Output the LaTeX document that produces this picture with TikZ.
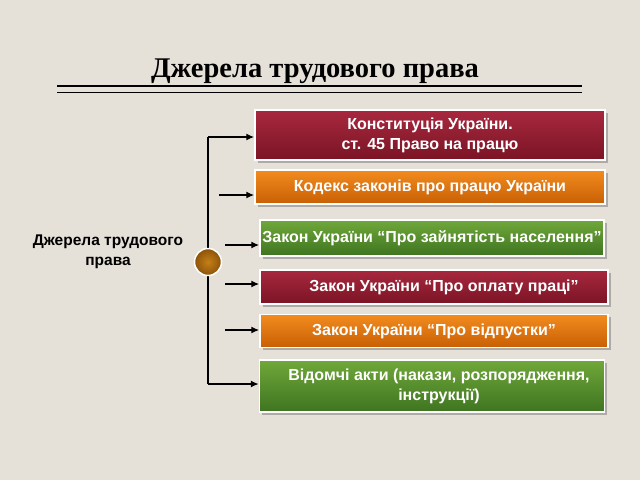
\documentclass[tikz,border=0pt]{standalone}
\usepackage{fontspec}
\setmainfont{Liberation Serif}
\newfontfamily\boxfont{Liberation Sans}
\usetikzlibrary{arrows.meta,shadows}

\definecolor{paper}{RGB}{230,225,216}
\definecolor{redtop}{RGB}{168,40,62}
\definecolor{redbot}{RGB}{122,20,37}
\definecolor{orangetop}{RGB}{242,140,30}
\definecolor{orangebot}{RGB}{200,95,5}
\definecolor{greentop}{RGB}{112,168,58}
\definecolor{greenbot}{RGB}{62,116,32}
\definecolor{hubin}{RGB}{196,128,22}
\definecolor{hubout}{RGB}{140,82,10}

\begin{document}
\begin{tikzpicture}[x=1pt,y=-1pt,->,>={Latex[length=8pt,width=7pt]},line width=1.4pt,
    srcbox/.style={draw=white,line width=1.5pt,align=center,text=white,
      font=\boxfont\bfseries\fontsize{16}{20}\selectfont,inner sep=0pt,
      drop shadow={shadow xshift=2.5pt,shadow yshift=-2.5pt,opacity=0.55}},
    redbox/.style={srcbox,top color=redtop,bottom color=redbot},
    orangebox/.style={srcbox,top color=orangetop,bottom color=orangebot},
    greenbox/.style={srcbox,top color=greentop,bottom color=greenbot}]

    \fill[paper] (0,0) rectangle (640,480);
    \useasboundingbox (0,0) rectangle (640,480);

    % title with double rule
    \node[font=\bfseries\fontsize{28.5}{32}\selectfont] (title) at (315,71) {Джерела трудового права};
    \draw[-,line width=2.4pt] (57,86) -- (582,86);
    \draw[-,line width=1pt] (57,92) -- (582,92);

    \node[align=center,font=\boxfont\bfseries\fontsize{15.5}{20}\selectfont] (src) at (108,252)
      {Джерела трудового\\права};

    % boxes
    \node[redbox,minimum width=350pt,minimum height=50pt] (c1) at (430,135)
      {Конституція України.\\ст. 45 Право на працю};
    \node[orangebox,minimum width=350pt,minimum height=34pt] (c2) at (430,187)
      {Кодекс законів про працю України};
    \node[greenbox,minimum width=344pt,minimum height=36pt] (c3) at (432,238)
      {Закон України “Про зайнятість населення”};
    \node[redbox,minimum width=348pt,minimum height=34pt] (c4) at (434,287)
      {\hspace*{20pt}Закон України “Про оплату праці”};
    \node[orangebox,minimum width=348pt,minimum height=33pt] (c5) at (434,331)
      {Закон України “Про відпустки”};
    \node[greenbox,minimum width=345pt,minimum height=52pt] (c6) at (432,386)
      {\hspace*{14pt}Відомчі акти (накази, розпорядження,\\\hspace*{14pt}інструкції)};

    % hub and connectors
    \coordinate (top) at (208,137);
    \coordinate (bot) at (208,384);
    \coordinate (a2) at (219,195);
    \coordinate (a3) at (225,245);
    \coordinate (a4) at (225,284);
    \coordinate (a5) at (225,330);

    \draw[-] (top) -- (bot);
    \node[circle,draw=white,line width=1.5pt,inner color=hubin,outer color=hubout,
      minimum size=27pt,inner sep=0pt] (hub) at (208,262) {};

    \path (top) edge (top -| c1.west)
    (a2) edge (a2 -| c2.west)
    (a3) edge (a3 -| c3.west)
    (a4) edge (a4 -| c4.west)
    (a5) edge (a5 -| c5.west)
    (bot) edge (bot -| c6.west);

\end{tikzpicture}
\end{document}
